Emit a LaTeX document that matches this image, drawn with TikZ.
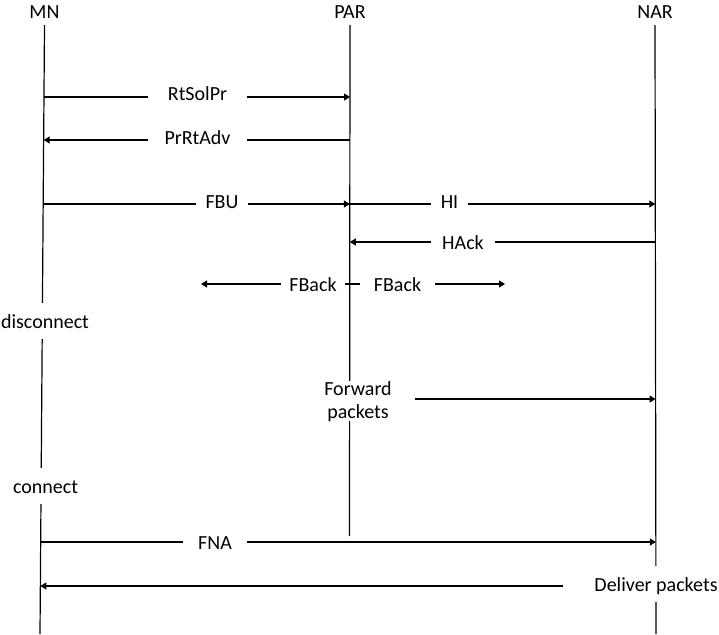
\documentclass[tikz,border=0pt]{standalone}
\usepackage{fontspec}
\setmainfont{Carlito}
\usetikzlibrary{arrows.meta,backgrounds}
\begin{document}
\begin{tikzpicture}[x=1pt,y=-1pt,
  every node/.style={font=\fontsize{20}{23}\selectfont},
  header/.style={anchor=base, inner xsep=0pt, inner ysep=6pt, text depth=0pt},
  lifeline/.style={line width=1.2pt},
  msg/.style={line width=1.2pt, -{Triangle[length=6pt,width=7pt]}},
  msglabel/.style={anchor=base, fill=white, inner xsep=0pt, inner ysep=7pt,
                   text height=18pt, text depth=4pt},
  breaklabel/.style={msglabel, inner xsep=2pt},
]
\useasboundingbox (0,0) rectangle (719,634);

% entity headers
\node[header] (MN)  at (44.5,19) {MN};
\node[header] (PAR) at (350,19)  {PAR};
\node[header] (NAR) at (655,19)  {NAR};

% lifeline ends
\coordinate (mn-end)  at (40,634);
\coordinate (par-end) at (349.5,536);
\coordinate (nar-end) at (656,634);

% message anchor points on the lifelines
\coordinate (mn-rt)   at (43.97,97);
\coordinate (par-rt)  at (350,97);
\coordinate (mn-adv)  at (43.65,140);
\coordinate (par-adv) at (350,140);
\coordinate (mn-fbu)  at (43.18,204);
\coordinate (par-fbu) at (349.9,204);
\coordinate (nar-hi)  at (655.3,204);
\coordinate (par-ack) at (349.8,242);
\coordinate (nar-ack) at (655.4,242);
\coordinate (par-fb)  at (349.8,284);
\coordinate (fb-l)    at (201,284);
\coordinate (fb-r)    at (505,284);
\coordinate (nar-fwd) at (655.6,399);
\coordinate (mn-fna)  at (40.68,542);
\coordinate (nar-fna) at (655.85,542);
\coordinate (mn-del)  at (40.35,586);
\coordinate (nar-del) at (655.9,586);

% message labels
\node[msglabel, minimum width=99pt] (l-rt)  at (197.5,100) {RtSolPr};
\node[msglabel, minimum width=99pt] (l-adv) at (197.5,144) {PrRtAdv};
\node[msglabel, minimum width=52pt] (l-fbu) at (222,208)   {FBU};
\node[msglabel, minimum width=37pt] (l-hi)  at (449.5,208) {HI};
\node[msglabel, minimum width=64pt] (l-ack) at (463,249)   {HAck};
\node[msglabel, minimum width=64pt] (l-fbl) at (313,291)   {FBack};
\node[msglabel, minimum width=75pt] (l-fbr) at (397.5,291) {FBack};
\node[msglabel, minimum width=64pt] (l-fna) at (215,549)   {FNA};

% state labels interrupting the lifelines
\node[breaklabel] (disc) at (45,328) {disconnect};
\node[breaklabel] (conn) at (45.5,493) {connect};
\node[breaklabel, inner xsep=31.5pt] (deliver) at (656,591) {Deliver packets};
\node[fill=white, anchor=north, align=center, inner xsep=23pt, inner ysep=0pt]
  (fwd) at (358,381) {Forward\\packets};

\begin{scope}[on background layer]
  % lifelines
  \draw[lifeline] (MN.south)  -- (mn-end);
  \draw[lifeline] (PAR.south) -- (par-end);
  \draw[lifeline] (NAR.south) -- (nar-end);

  % messages
  \draw[msg] (mn-rt)   -- (par-rt);
  \draw[msg] (par-adv) -- (mn-adv);
  \draw[msg] (mn-fbu)  -- (par-fbu);
  \draw[msg] (par-fbu) -- (nar-hi);
  \draw[msg] (nar-ack) -- (par-ack);
  \draw[msg] (par-fb)  -- (fb-l);
  \draw[msg] (par-fb)  -- (fb-r);
  \draw[msg] (fwd.east |- nar-fwd) -- (nar-fwd);
  \draw[msg] (mn-fna)  -- (nar-fna);
  \draw[msg] (deliver.west |- nar-del) -- (mn-del);
\end{scope}
\end{tikzpicture}
\end{document}
